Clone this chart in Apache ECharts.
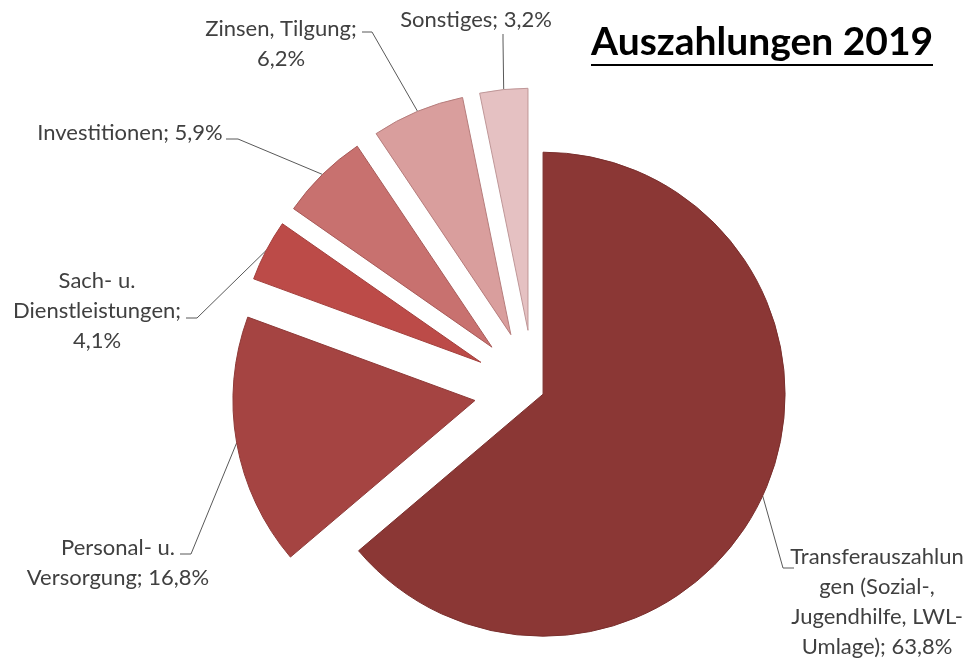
<!DOCTYPE html>
<html>
<head>
<meta charset="utf-8">
<script src="https://cdn.jsdelivr.net/npm/echarts@6/dist/echarts.min.js"></script>
<style>
html,body{margin:0;padding:0;background:#fff;}
#chart{width:979px;height:659px;}
</style>
</head>
<body>
<div id="chart"></div>
<script>
// ---- data ----
var categories = [
  'Transferauszahlun\ngen (Sozial-,\nJugendhilfe, LWL-\nUmlage)',
  'Personal- u.\nVersorgung',
  'Sach- u.\nDienstleistungen',
  'Investitionen',
  'Zinsen, Tilgung',
  'Sonstiges'
];
var values = [63.8, 16.8, 4.1, 5.9, 6.2, 3.2];
var titleText = 'Auszahlungen 2019';

// ---- style ----
var colors = ['#8B3735', '#A54442', '#BC4B48', '#C8716F', '#D99E9D', '#E5C1C2'];
var borders = ['#7a2f2d', '#8f3a38', '#a33f3c', '#a85a58', '#b67d7c', '#bf9798'];
var separators = ['; ', '; ', ';\n', '; ', ';\n', '; '];
// label block centre positions [x, y]
var labelPos = [[877, 602], [118, 563], [97, 311], [130, 133], [281, 44], [476, 20]];
// leader line: elbow point and end point next to the label
var leaderElbow = [[783, 568], [191, 554], [197, 318], [238, 139], [372, 32], [503, 40]];
var leaderEnd   = [[794, 568], [180, 554], [186, 318], [226, 139], [362, 32], [503, 34]];
var bigIndex = 0;        // slice with the small explosion
var pieCenter = [534, 390];
var pieRadius = 242;
var smallOffset = 10, bigOffset = 60;

function fmt(v) { return v.toFixed(1).replace('.', ',') + '%'; }

function buildData(visibleFn, withFill) {
  return categories.map(function (c, i) {
    var vis = visibleFn(i);
    return {
      name: c,
      value: values[i],
      selected: withFill && vis,
      itemStyle: withFill
        ? {color: colors[i], borderColor: borders[i], borderWidth: 1, opacity: vis ? 1 : 0}
        : {color: 'rgba(255,255,255,0)', borderWidth: 0, opacity: 1},
      label: {show: !withFill && vis},
      labelLine: {show: !withFill && vis}
    };
  });
}

function labelLayout(params) {
  var i = params.dataIndex;
  var p = labelPos[i];
  var res = {x: p[0], y: p[1], align: 'center', verticalAlign: 'middle'};
  if (params.labelLinePoints && params.labelLinePoints.length) {
    res.labelLinePoints = [params.labelLinePoints[0].slice(), leaderElbow[i], leaderEnd[i]];
  }
  return res;
}

var common = {
  type: 'pie',
  center: pieCenter,
  startAngle: 90,
  clockwise: true,
  avoidLabelOverlap: false,
  animation: false,
  emphasis: {disabled: true},
  label: {
    show: false,
    position: 'outside',
    fontFamily: 'Lato',
    fontSize: 22,
    lineHeight: 30,
    color: '#404040',
    opacity: 1,
    align: 'center',
    formatter: function (p) { return p.name + separators[p.dataIndex] + fmt(p.value); }
  },
  labelLine: {show: false, length: 10, length2: 10, smooth: false, lineStyle: {color: '#595959', width: 1, opacity: 1}}
};

function sliceSeries(offset, visibleFn) {
  return Object.assign({}, common, {
    z: 3,
    radius: pieRadius,
    selectedMode: 'multiple',
    selectedOffset: offset,
    data: buildData(visibleFn, true)
  });
}
function labelSeries(offset, visibleFn) {
  return Object.assign({}, common, {
    z: 1,
    silent: true,
    radius: pieRadius + offset,
    selectedMode: false,
    labelLayout: labelLayout,
    data: buildData(visibleFn, false)
  });
}
var isBig = function (i) { return i === bigIndex; };
var isSmall = function (i) { return i !== bigIndex; };

var chart = echarts.init(document.getElementById('chart'), null, {renderer: 'canvas'});
chart.setOption({
  backgroundColor: '#ffffff',
  animation: false,
  title: {
    text: titleText,
    left: 586,
    top: 18,
    textStyle: {fontFamily: 'Lato', fontSize: 39, fontWeight: 'bold', color: '#000000'}
  },
  graphic: [{
    type: 'line',
    shape: {x1: 591, y1: 65, x2: 933, y2: 65},
    style: {stroke: '#000', lineWidth: 2}
  }],
  series: [
    labelSeries(smallOffset, isBig),
    labelSeries(bigOffset, isSmall),
    sliceSeries(smallOffset, isBig),
    sliceSeries(bigOffset, isSmall)
  ]
});
</script>
</body>
</html>
